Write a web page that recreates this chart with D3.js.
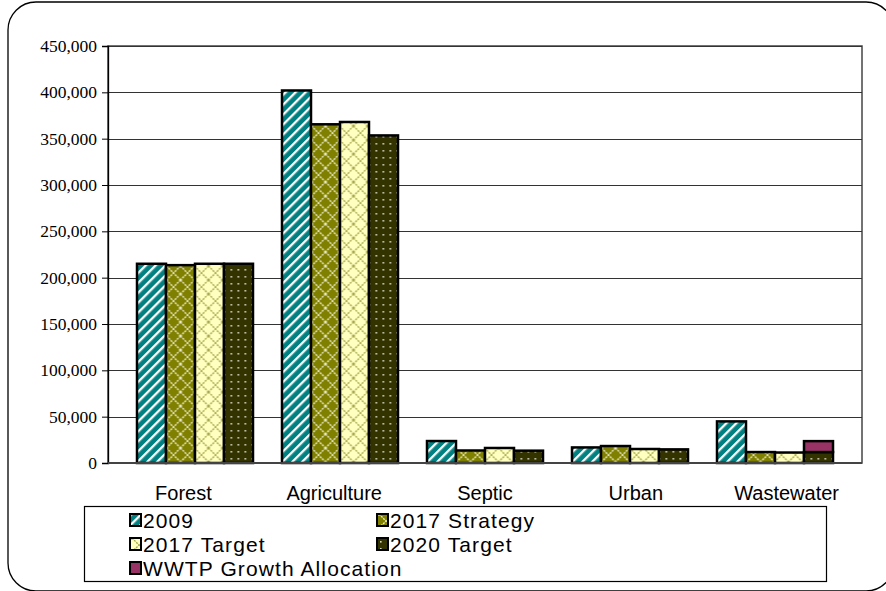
<!DOCTYPE html>
<html><head><meta charset="utf-8">
<script src="https://cdn.jsdelivr.net/npm/d3@7"></script>
<style>body{margin:0;background:#fff}svg{display:block}</style>
</head><body>
<svg id="chart" width="886" height="591"></svg>
<script>
const categories = ["Forest","Agriculture","Septic","Urban","Wastewater"];
const seriesNames = ["2009","2017 Strategy","2017 Target","2020 Target"];
const v2009        = [215000, 402000, 23700, 16800, 44900];
const v2017Strategy= [213500, 365500, 13500, 18300, 11800];
const v2017Target  = [215000, 368000, 16200, 15100, 11300];
const v2020Target  = [215000, 353500, 13300, 14700, 11800];
const wwtpGrowth   = [0, 0, 0, 0, 11800];
const yTicks = [0,50000,100000,150000,200000,250000,300000,350000,400000,450000];
const legendNames = ["2009","2017 Strategy","2017 Target","2020 Target","WWTP Growth Allocation"];

const seriesValues = [v2009, v2017Strategy, v2017Target, v2020Target];
const fills = ["url(#p2009)","url(#pStrat)","url(#pTarget)","url(#p2020)","#993366"];

const svg = d3.select("#chart");
const defs = svg.append("defs");

// patterns
let p = defs.append("pattern").attr("id","p2009").attr("patternUnits","userSpaceOnUse")
  .attr("width",7).attr("height",7).attr("patternTransform","rotate(45)");
p.append("rect").attr("width",7).attr("height",7).attr("fill","#008080");
p.append("rect").attr("width",2.3).attr("height",7).attr("fill","#ffffff");

p = defs.append("pattern").attr("id","pStrat").attr("patternUnits","userSpaceOnUse")
  .attr("width",14).attr("height",14).attr("x",2).attr("y",0);
p.append("rect").attr("width",14).attr("height",14).attr("fill","#808000");
p.append("path").attr("d","M0,0L14,14M14,0L0,14")
  .attr("stroke","#e8e8c8").attr("stroke-width",1.4).attr("stroke-dasharray","2,1");

p = defs.append("pattern").attr("id","pTarget").attr("patternUnits","userSpaceOnUse")
  .attr("width",14).attr("height",14).attr("x",2).attr("y",0);
p.append("rect").attr("width",14).attr("height",14).attr("fill","#ffffc0");
p.append("path").attr("d","M0,0L14,14M14,0L0,14")
  .attr("stroke","#a8a850").attr("stroke-width",1.4).attr("stroke-dasharray","2,1");

p = defs.append("pattern").attr("id","p2020").attr("patternUnits","userSpaceOnUse")
  .attr("width",7).attr("height",7);
p.append("rect").attr("width",7).attr("height",7).attr("fill","#333300");
p.append("rect").attr("x",3).attr("y",3).attr("width",1.6).attr("height",1.6).attr("fill","#d8d8c8");

// outer rounded border
svg.append("rect").attr("x",8).attr("y",2).attr("width",886).attr("height",589)
  .attr("rx",28).attr("ry",28).attr("fill","none").attr("stroke","#000").attr("stroke-width",1.3);

const pLeft = 108, pRight = 862, pTop = 46, pBottom = 463;
const y = d3.scaleLinear().domain([0,450000]).range([pBottom, pTop]);
const x0 = d3.scaleBand().domain(categories).range([pLeft,pRight]).paddingOuter(0.1).paddingInner(0);
const x1 = d3.scaleBand().domain(seriesNames).range([0, x0.bandwidth()]).paddingOuter(0.5).paddingInner(0);
const xLabel = d3.scaleBand().domain(categories).range([pLeft,pRight]);

// plot area border
svg.append("rect").attr("x",pLeft).attr("y",pTop).attr("width",pRight-pLeft).attr("height",pBottom-pTop)
  .attr("fill","none").attr("stroke","#444").attr("stroke-width",1.5);

// gridlines
svg.append("g").selectAll("line").data(yTicks.filter(t=>t>0)).join("line")
  .attr("x1",pLeft).attr("x2",pRight).attr("y1",d=>Math.round(y(d))+0.5).attr("y2",d=>Math.round(y(d))+0.5)
  .attr("stroke","#333").attr("stroke-width",1.2);

// y axis
const yAxis = svg.append("g").attr("transform",`translate(${pLeft},0)`)
  .call(d3.axisLeft(y).tickValues(yTicks).tickFormat(d3.format(",")).tickSize(6).tickPadding(5));
yAxis.select(".domain").attr("stroke","#000").attr("stroke-width",1.3);
yAxis.selectAll(".tick line").attr("stroke","#000");
yAxis.selectAll("text").attr("font-family","'Liberation Serif','Times New Roman',serif")
  .attr("font-size",17.5).attr("fill","#000");

// bars
const groups = svg.append("g").selectAll("g").data(categories).join("g")
  .attr("transform",d=>`translate(${x0(d)},0)`);
seriesNames.forEach((s,si)=>{
  groups.append("rect")
    .attr("x",x1(s)).attr("width",x1.bandwidth())
    .attr("y",(d,ci)=>y(seriesValues[si][ci]))
    .attr("height",(d,ci)=>y(0)-y(seriesValues[si][ci]))
    .attr("fill",fills[si]).attr("stroke","#000").attr("stroke-width",2.5);
});
// stacked WWTP on 2020 Target
groups.filter((d,ci)=>wwtpGrowth[ci]>0).append("rect")
  .attr("x",x1("2020 Target")).attr("width",x1.bandwidth())
  .attr("y",d=>{const ci=categories.indexOf(d);return y(v2020Target[ci]+wwtpGrowth[ci]);})
  .attr("height",d=>{const ci=categories.indexOf(d);return y(v2020Target[ci])-y(v2020Target[ci]+wwtpGrowth[ci]);})
  .attr("fill",fills[4]).attr("stroke","#000").attr("stroke-width",2.5);

// baseline
svg.append("line").attr("x1",pLeft).attr("x2",pRight).attr("y1",pBottom).attr("y2",pBottom)
  .attr("stroke","#444").attr("stroke-width",2);

// category labels
svg.append("g").selectAll("text").data(categories).join("text")
  .attr("x",d=>xLabel(d)+xLabel.bandwidth()/2).attr("y",500)
  .attr("text-anchor","middle").attr("font-family","'Liberation Sans',Arial,sans-serif")
  .attr("font-size",20).attr("fill","#000").text(d=>d);

// legend
svg.append("rect").attr("x",84.5).attr("y",506.5).attr("width",742).attr("height",75)
  .attr("fill","#fff").attr("stroke","#000").attr("stroke-width",1.2);
const legPos = [[130,514],[377,514],[130,538],[377,538],[130,562]];
const leg = svg.append("g").selectAll("g").data(legendNames).join("g")
  .attr("transform",(d,i)=>`translate(${legPos[i][0]},${legPos[i][1]})`);
leg.append("rect").attr("width",11).attr("height",12)
  .attr("fill",(d,i)=>fills[i]).attr("stroke","#000").attr("stroke-width",2);
leg.append("text").attr("x",13).attr("y",14).attr("font-family","'Liberation Sans',Arial,sans-serif")
  .attr("font-size",21).attr("letter-spacing",1.1).attr("fill","#000").text(d=>d);
</script>
</body></html>
